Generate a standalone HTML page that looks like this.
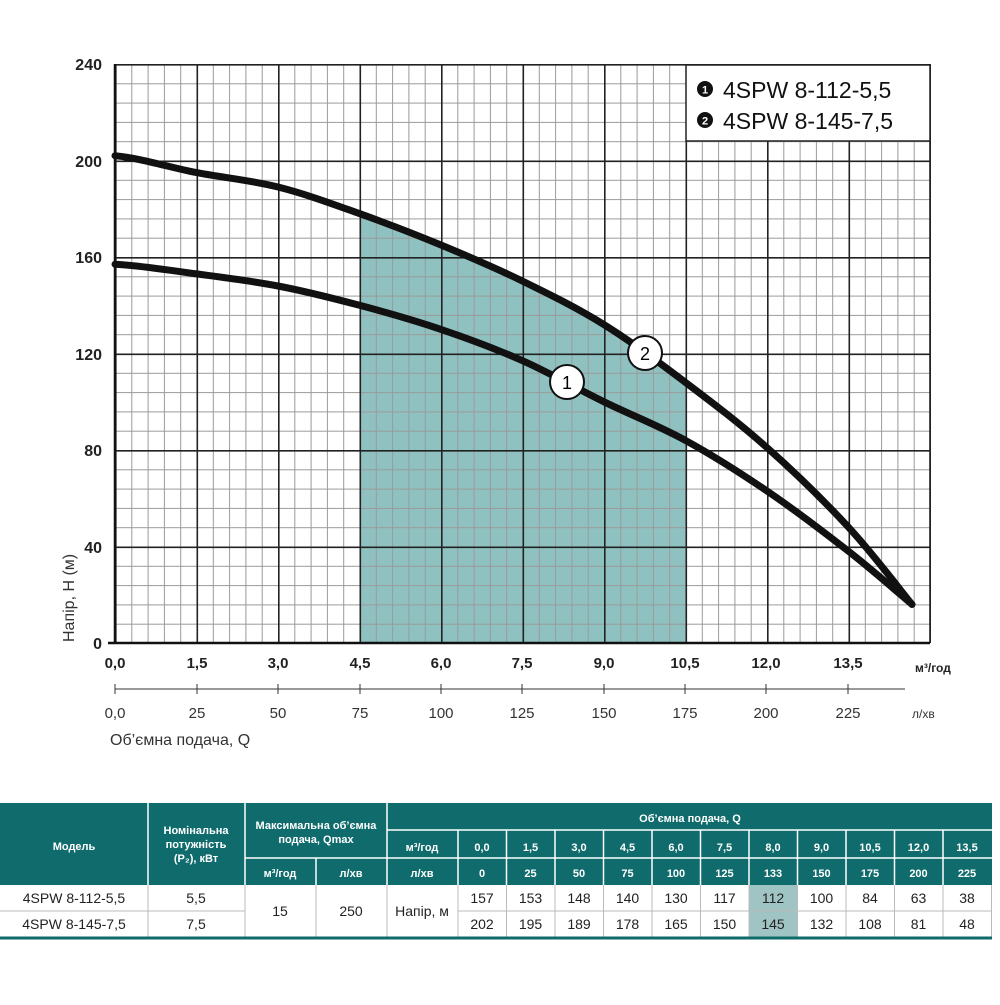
<!DOCTYPE html>
<html><head><meta charset="utf-8"><style>
body{margin:0;background:#fff;width:1000px;height:1000px;overflow:hidden;font-family:"Liberation Sans",sans-serif}
</style></head><body>
<svg width="1000" height="1000" viewBox="0 0 1000 1000" xmlns="http://www.w3.org/2000/svg" font-family="Liberation Sans, sans-serif">
<defs>
<pattern id="mn" patternUnits="userSpaceOnUse" x="115" y="64" width="16.3" height="19.3"><path d="M0.5 0V19.3M0 0.5H16.3" stroke="#9a9a9a" stroke-width="1" fill="none"/></pattern>
<pattern id="mj" patternUnits="userSpaceOnUse" x="115" y="64" width="81.5" height="96.5"><path d="M0.8 0V96.5M0 0.8H81.5" stroke="#222" stroke-width="1.6" fill="none"/></pattern>
</defs>
<path d="M359.5,643 L359.5,213.6 C386.7,223.3 413.8,233.8 441,245 C468.2,256.3 495.3,267.8 522.5,281.1 C549.7,294.4 576.8,307.7 604,324.6 C631.2,341.5 658.3,361.9 685.5,382.4 L685.5,643 Z" fill="#8fc1c0"/>
<rect x="115" y="64" width="815" height="579" fill="url(#mn)"/>
<rect x="115" y="64" width="816" height="579" fill="url(#mj)"/>
<line x1="930" y1="64" x2="930" y2="643" stroke="#222" stroke-width="1.6"/>
<line x1="115" y1="64" x2="115" y2="643" stroke="#111" stroke-width="2.5"/>
<line x1="108" y1="643" x2="930" y2="643" stroke="#111" stroke-width="2.5"/>
<g font-weight="bold" font-size="16" fill="#222" text-anchor="end">
<text x="102" y="70">240</text><text x="102" y="167">200</text><text x="102" y="263">160</text><text x="102" y="360">120</text><text x="102" y="456">80</text><text x="102" y="553">40</text><text x="102" y="649">0</text>
</g>
<g font-weight="bold" font-size="15" fill="#222" text-anchor="middle">
<text x="115" y="668">0,0</text><text x="197" y="668">1,5</text><text x="278" y="668">3,0</text><text x="360" y="668">4,5</text><text x="441" y="668">6,0</text><text x="522" y="668">7,5</text><text x="604" y="668">9,0</text><text x="685" y="668">10,5</text><text x="766" y="668">12,0</text><text x="848" y="668">13,5</text>
</g>
<text x="915" y="672" font-weight="bold" font-size="12" fill="#222">м³/год</text>
<line x1="115" y1="689" x2="905" y2="689" stroke="#333" stroke-width="1"/>
<g stroke="#333"><line x1="115" y1="684" x2="115" y2="694"/><line x1="197" y1="684" x2="197" y2="694"/><line x1="278" y1="684" x2="278" y2="694"/><line x1="360" y1="684" x2="360" y2="694"/><line x1="441" y1="684" x2="441" y2="694"/><line x1="522" y1="684" x2="522" y2="694"/><line x1="604" y1="684" x2="604" y2="694"/><line x1="685" y1="684" x2="685" y2="694"/><line x1="766" y1="684" x2="766" y2="694"/><line x1="848" y1="684" x2="848" y2="694"/></g>
<g font-size="15" fill="#333" text-anchor="middle">
<text x="115" y="718">0,0</text><text x="197" y="718">25</text><text x="278" y="718">50</text><text x="360" y="718">75</text><text x="441" y="718">100</text><text x="522" y="718">125</text><text x="604" y="718">150</text><text x="685" y="718">175</text><text x="766" y="718">200</text><text x="848" y="718">225</text>
</g>
<text x="912" y="718" font-size="12" fill="#333">л/хв</text>
<text x="110" y="745" font-size="16" fill="#333">Об’ємна подача, Q</text>
<text transform="translate(74,642) rotate(-90)" font-size="16" fill="#333">Напір, Н (м)</text>
<path d="M115,264.2 C142.2,265.8 169.3,270.3 196.5,273.9 C223.7,277.5 250.8,280.8 278,286 C305.2,291.2 332.3,298.1 359.5,305.3 C386.7,312.5 413.8,320.2 441,329.4 C468.2,338.6 495.3,348.6 522.5,360.7 C549.7,372.8 576.8,388.5 604,401.8 C631.2,415.1 658.3,425.5 685.5,440.4 C712.7,455.3 739.8,472.5 767,491 C794.2,509.5 824.3,532.4 848.5,551.3 C872.7,570.2 901.4,595.5 912,604.4" fill="none" stroke="#111" stroke-width="7" stroke-linecap="round"/>
<path d="M115,155.7 C142.2,158.5 169.3,167.4 196.5,172.6 C223.7,177.8 250.8,180.2 278,187 C305.2,193.8 332.3,203.9 359.5,213.6 C386.7,223.3 413.8,233.8 441,245 C468.2,256.3 495.3,267.8 522.5,281.1 C549.7,294.4 576.8,307.7 604,324.6 C631.2,341.5 658.3,361.9 685.5,382.4 C712.7,402.9 739.8,423.5 767,447.6 C794.2,471.7 824.3,501.1 848.5,527.2 C872.7,553.3 901.4,591.5 912,604.4" fill="none" stroke="#111" stroke-width="7" stroke-linecap="round"/>
<circle cx="567" cy="382" r="17" fill="#fff" stroke="#111" stroke-width="2"/><text x="567" y="389" font-size="18" text-anchor="middle">1</text>
<circle cx="645" cy="353" r="17" fill="#fff" stroke="#111" stroke-width="2"/><text x="645" y="360" font-size="18" text-anchor="middle">2</text>
<rect x="686" y="65" width="244" height="76" fill="#fff" stroke="#222" stroke-width="1.5"/>
<circle cx="705" cy="89" r="8" fill="#111"/><text x="705" y="93.5" font-size="11" fill="#fff" text-anchor="middle" font-weight="bold">1</text>
<circle cx="705" cy="120" r="8" fill="#111"/><text x="705" y="124.5" font-size="11" fill="#fff" text-anchor="middle" font-weight="bold">2</text>
<text x="723" y="98" font-size="23" fill="#111">4SPW 8-112-5,5</text>
<text x="723" y="129" font-size="23" fill="#111">4SPW 8-145-7,5</text>

<rect x="0" y="803" width="992" height="82" fill="#0f6b6c"/>
<rect x="749" y="885" width="48.5" height="52" fill="#9fc4c3"/>
<g stroke="#fff" stroke-width="1.5">
<line x1="148" y1="803" x2="148" y2="885"/><line x1="245" y1="803" x2="245" y2="885"/><line x1="387" y1="803" x2="387" y2="885"/>
<line x1="245" y1="858" x2="387" y2="858"/><line x1="316" y1="858" x2="316" y2="885"/>
<line x1="387" y1="830" x2="992" y2="830"/><line x1="387" y1="858" x2="992" y2="858"/>
<line x1="458" y1="830" x2="458" y2="885"/><line x1="506.5" y1="830" x2="506.5" y2="885"/><line x1="555" y1="830" x2="555" y2="885"/><line x1="603.5" y1="830" x2="603.5" y2="885"/><line x1="652" y1="830" x2="652" y2="885"/><line x1="700.5" y1="830" x2="700.5" y2="885"/><line x1="749" y1="830" x2="749" y2="885"/><line x1="797.5" y1="830" x2="797.5" y2="885"/><line x1="846" y1="830" x2="846" y2="885"/><line x1="894.5" y1="830" x2="894.5" y2="885"/><line x1="943" y1="830" x2="943" y2="885"/>
</g>
<g stroke="#bbb" stroke-width="1">
<line x1="0" y1="911" x2="245" y2="911"/><line x1="458" y1="911" x2="992" y2="911"/>
<line x1="148" y1="885" x2="148" y2="937"/><line x1="245" y1="885" x2="245" y2="937"/><line x1="316" y1="885" x2="316" y2="937"/><line x1="387" y1="885" x2="387" y2="937"/>
<line x1="458" y1="885" x2="458" y2="937"/><line x1="506.5" y1="885" x2="506.5" y2="937"/><line x1="555" y1="885" x2="555" y2="937"/><line x1="603.5" y1="885" x2="603.5" y2="937"/><line x1="652" y1="885" x2="652" y2="937"/><line x1="700.5" y1="885" x2="700.5" y2="937"/><line x1="749" y1="885" x2="749" y2="937"/><line x1="797.5" y1="885" x2="797.5" y2="937"/><line x1="846" y1="885" x2="846" y2="937"/><line x1="894.5" y1="885" x2="894.5" y2="937"/><line x1="943" y1="885" x2="943" y2="937"/><line x1="991.5" y1="885" x2="991.5" y2="937"/>
</g>
<line x1="0" y1="938" x2="992" y2="938" stroke="#0f6b6c" stroke-width="3"/>
<g font-size="11" font-weight="bold" fill="#fff" text-anchor="middle">
<text x="74" y="850">Модель</text>
<text x="196" y="834">Номінальна</text><text x="196" y="848">потужність</text><text x="196" y="862">(P₂), кВт</text>
<text x="316" y="829">Максимальна об’ємна</text><text x="316" y="843">подача, Qmax</text>
<text x="280" y="877">м³/год</text><text x="351" y="877">л/хв</text>
<text x="422" y="851">м³/год</text><text x="422" y="877">л/хв</text>
<text x="690" y="822">Об’ємна подача, Q</text>
<text x="482" y="851">0,0</text><text x="530.5" y="851">1,5</text><text x="579" y="851">3,0</text><text x="627.5" y="851">4,5</text><text x="676" y="851">6,0</text><text x="724.5" y="851">7,5</text><text x="773" y="851">8,0</text><text x="821.5" y="851">9,0</text><text x="870" y="851">10,5</text><text x="918.5" y="851">12,0</text><text x="967" y="851">13,5</text>
<text x="482" y="877">0</text><text x="530.5" y="877">25</text><text x="579" y="877">50</text><text x="627.5" y="877">75</text><text x="676" y="877">100</text><text x="724.5" y="877">125</text><text x="773" y="877">133</text><text x="821.5" y="877">150</text><text x="870" y="877">175</text><text x="918.5" y="877">200</text><text x="967" y="877">225</text>
</g>
<g font-size="14" fill="#222" text-anchor="middle">
<text x="74" y="903">4SPW 8-112-5,5</text><text x="74" y="929">4SPW 8-145-7,5</text>
<text x="196" y="903">5,5</text><text x="196" y="929">7,5</text>
<text x="280" y="916">15</text><text x="351" y="916">250</text><text x="422" y="916">Напір, м</text>
<text x="482" y="903">157</text><text x="530.5" y="903">153</text><text x="579" y="903">148</text><text x="627.5" y="903">140</text><text x="676" y="903">130</text><text x="724.5" y="903">117</text><text x="773" y="903">112</text><text x="821.5" y="903">100</text><text x="870" y="903">84</text><text x="918.5" y="903">63</text><text x="967" y="903">38</text>
<text x="482" y="929">202</text><text x="530.5" y="929">195</text><text x="579" y="929">189</text><text x="627.5" y="929">178</text><text x="676" y="929">165</text><text x="724.5" y="929">150</text><text x="773" y="929">145</text><text x="821.5" y="929">132</text><text x="870" y="929">108</text><text x="918.5" y="929">81</text><text x="967" y="929">48</text>
</g>
</svg>
</body></html>
